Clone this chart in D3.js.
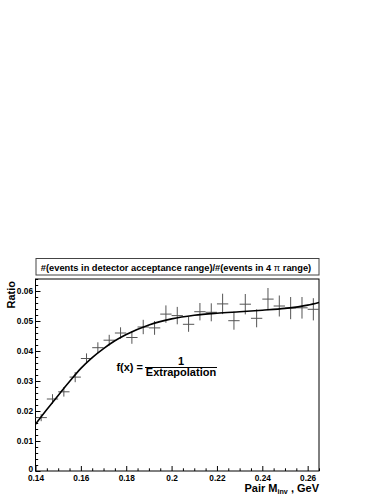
<!DOCTYPE html>
<html>
<head>
<meta charset="utf-8">
<script src="https://cdn.jsdelivr.net/npm/d3@7"></script>
<style>
  body { margin: 0; background: #fff; }
  svg { display: block; font-family: "Liberation Sans", Arial, sans-serif; font-weight: bold; }
</style>
</head>
<body>
<svg id="chart" width="383" height="496"></svg>
<script>
// Bin centres (pair invariant mass, GeV), bin width 0.005
const binCenters = [0.1425, 0.1475, 0.1525, 0.1575, 0.1625, 0.1675, 0.1725, 0.1775, 0.1825, 0.1875,
                    0.1925, 0.1975, 0.2025, 0.2075, 0.2125, 0.2175, 0.2225, 0.2275, 0.2325, 0.2375,
                    0.2425, 0.2475, 0.2525, 0.2575, 0.2625];
const binHalfWidth = 0.0025;
// Measured ratio per bin
const ratio = [0.0178, 0.0240, 0.0264, 0.0313, 0.0375, 0.0411, 0.0436, 0.0460, 0.0445, 0.0480,
               0.0477, 0.0523, 0.0518, 0.0489, 0.0531, 0.0529, 0.0557, 0.0501, 0.0556, 0.0509,
               0.0573, 0.0550, 0.0543, 0.0544, 0.0539];
const ratioErr = [0.0012, 0.0016, 0.0016, 0.0017, 0.0017, 0.0018, 0.0018, 0.0019, 0.0021, 0.0024,
                  0.0023, 0.0029, 0.0029, 0.0025, 0.0029, 0.0030, 0.0034, 0.0030, 0.0034, 0.0030,
                  0.0037, 0.0035, 0.0037, 0.0036, 0.0037];
// Fit curve
const fitX = [0.14, 0.145, 0.15, 0.155, 0.16, 0.165, 0.17, 0.175, 0.18, 0.19, 0.20, 0.21, 0.22, 0.23, 0.24, 0.25, 0.26, 0.265];
const fitY = [0.0156, 0.0205, 0.0252, 0.0298, 0.0342, 0.0378, 0.0408, 0.0434, 0.0455, 0.0487, 0.0507, 0.0519, 0.0526, 0.0531, 0.0536, 0.0542, 0.0553, 0.0562];
// Axis ticks
const xMajorTicks = [0.14, 0.16, 0.18, 0.2, 0.22, 0.24, 0.26];
const xTickLabels = ["0.14", "0.16", "0.18", "0.2", "0.22", "0.24", "0.26"];
const xMinorTicks = [0.145, 0.15, 0.155, 0.165, 0.17, 0.175, 0.185, 0.19, 0.195, 0.205, 0.21, 0.215,
                     0.225, 0.23, 0.235, 0.245, 0.25, 0.255, 0.265];
const yMajorTicks = [0, 0.01, 0.02, 0.03, 0.04, 0.05, 0.06];
const yTickLabels = ["0", "0.01", "0.02", "0.03", "0.04", "0.05", "0.06"];
const yMinorTicks = [0.002, 0.004, 0.006, 0.008, 0.012, 0.014, 0.016, 0.018, 0.022, 0.024, 0.026, 0.028,
                     0.032, 0.034, 0.036, 0.038, 0.042, 0.044, 0.046, 0.048, 0.052, 0.054, 0.056, 0.058,
                     0.062, 0.064];

const svg = d3.select("#chart");

const frame = { left: 35.5, right: 319, top: 279, bottom: 471 };

const x = d3.scaleLinear().domain([0.14, 0.265]).range([frame.left, frame.right]);
const y = d3.scaleLinear().domain([0, 0.064]).range([frame.bottom, frame.top]);

// Title box
svg.append("rect")
    .attr("x", 36).attr("y", 258.5)
    .attr("width", 283).attr("height", 16.5)
    .attr("fill", "#fff").attr("stroke", "#444").attr("stroke-width", 1);
const title = svg.append("text")
    .attr("transform", "translate(176,270.5) scale(1.08,1)")
    .attr("text-anchor", "middle")
    .attr("font-size", 8.6);
title.append("tspan").text("#(events in detector acceptance range)/#(events in 4 ");
title.append("tspan").attr("font-weight", "normal").text("π");
title.append("tspan").text(" range)");

// Frame
svg.append("rect")
    .attr("x", frame.left).attr("y", frame.top)
    .attr("width", frame.right - frame.left).attr("height", frame.bottom - frame.top)
    .attr("fill", "none").attr("stroke", "#000").attr("stroke-width", 1);

// X axis
const xAxis = svg.append("g")
    .attr("transform", "translate(0," + frame.bottom + ")")
    .call(d3.axisBottom(x).tickValues(xMajorTicks).tickSize(-5).tickPadding(4.5)
        .tickFormat((d, i) => xTickLabels[i]));
xAxis.select(".domain").remove();
xAxis.selectAll("text").attr("font-size", 8.3).attr("fill", "#000");

svg.append("g")
    .attr("transform", "translate(0," + frame.bottom + ")")
    .call(d3.axisBottom(x).tickValues(xMinorTicks).tickSize(-2.7).tickFormat(""))
    .select(".domain").remove();

// Y axis
const yAxis = svg.append("g")
    .attr("transform", "translate(" + frame.left + ",0)")
    .call(d3.axisLeft(y).tickValues(yMajorTicks).tickSize(-5).tickPadding(2.5)
        .tickFormat((d, i) => yTickLabels[i]));
yAxis.select(".domain").remove();
yAxis.selectAll("text").attr("font-size", 8.3).attr("fill", "#000");
yAxis.selectAll(".tick").filter(d => d === 0).select("text").attr("dy", "0");

svg.append("g")
    .attr("transform", "translate(" + frame.left + ",0)")
    .call(d3.axisLeft(y).tickValues(yMinorTicks).tickSize(-2.7).tickFormat(""))
    .select(".domain").remove();

svg.selectAll(".tick line").attr("stroke", "#000");

// Axis titles
svg.append("text")
    .attr("transform", "translate(15," + 281 + ") rotate(-90)")
    .attr("text-anchor", "end")
    .attr("font-size", 11)
    .text("Ratio");

const xTitle = svg.append("text")
    .attr("transform", "translate(" + frame.right + ",491.5) scale(1.1,1)")
    .attr("text-anchor", "end")
    .attr("font-size", 10);
xTitle.append("tspan").text("Pair M");
xTitle.append("tspan").attr("font-size", 6.5).attr("dy", 2.5).text("inv");
xTitle.append("tspan").attr("dy", -2.5).text(" , GeV");

// Data points with error crosses
const points = binCenters.map((c, i) => ({ x: c, y: ratio[i], e: ratioErr[i] }));
const crosses = svg.append("g")
    .attr("stroke", "#555").attr("stroke-width", 1);
crosses.selectAll(".hbar")
    .data(points)
    .enter()
    .append("line")
    .attr("class", "hbar")
    .attr("x1", d => x(d.x - binHalfWidth))
    .attr("x2", d => x(d.x + binHalfWidth))
    .attr("y1", d => y(d.y))
    .attr("y2", d => y(d.y));
crosses.selectAll(".vbar")
    .data(points)
    .enter()
    .append("line")
    .attr("class", "vbar")
    .attr("x1", d => x(d.x))
    .attr("x2", d => x(d.x))
    .attr("y1", d => y(d.y - d.e))
    .attr("y2", d => y(d.y + d.e));

// Fit curve
const line = d3.line()
    .x(d => x(d[0]))
    .y(d => y(d[1]))
    .curve(d3.curveMonotoneX);
svg.append("path")
    .datum(fitX.map((v, i) => [v, fitY[i]]))
    .attr("d", line)
    .attr("fill", "none")
    .attr("stroke", "#000")
    .attr("stroke-width", 1.6);

// Formula label
svg.append("text")
    .attr("x", 143).attr("y", 371)
    .attr("text-anchor", "end")
    .attr("font-size", 11)
    .text("f(x) =");
svg.append("line")
    .attr("x1", 145).attr("x2", 217)
    .attr("y1", 367.5).attr("y2", 367.5)
    .attr("stroke", "#000").attr("stroke-width", 1);
svg.append("text")
    .attr("x", 181).attr("y", 365)
    .attr("text-anchor", "middle")
    .attr("font-size", 11)
    .text("1");
svg.append("text")
    .attr("x", 181).attr("y", 376)
    .attr("text-anchor", "middle")
    .attr("font-size", 11)
    .text("Extrapolation");
</script>
</body>
</html>
